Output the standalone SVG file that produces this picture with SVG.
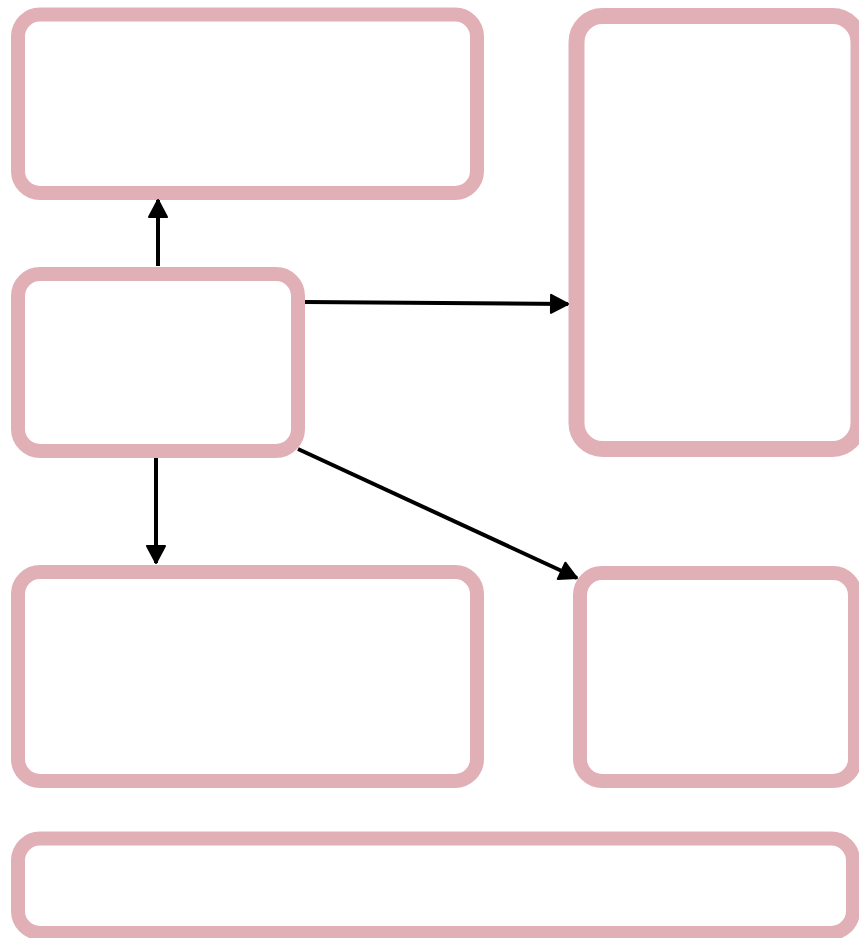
<svg xmlns="http://www.w3.org/2000/svg" width="859" height="938" viewBox="0 0 859 938">
<style>
.node{fill:#ffffff;stroke:#e1b0b7;stroke-width:14}
.thick{stroke-width:16}
.edge{fill:none;stroke:#000000;stroke-width:4}
</style>
<defs>
<marker id="ah" markerUnits="userSpaceOnUse" markerWidth="24" markerHeight="24" viewBox="0 0 24 24" refX="20" refY="12" orient="auto">
<path d="M3,3 L20,12 L3,21 Z" fill="#000" stroke="#000" stroke-width="2" stroke-linejoin="round"/>
</marker>
</defs>
<rect width="859" height="938" fill="#ffffff"/>
<g id="node-top-left"><rect class="node" x="18" y="14.5" width="459" height="178.5" rx="22"/></g>
<g id="node-center"><rect class="node" x="18" y="274" width="280" height="177" rx="22"/></g>
<g id="node-right-tall"><rect class="node thick" x="576.5" y="16" width="282" height="433" rx="26"/></g>
<g id="node-bottom-left"><rect class="node" x="18" y="572" width="459" height="209" rx="22"/></g>
<g id="node-bottom-right"><rect class="node" x="580" y="573" width="275" height="208" rx="22"/></g>
<g id="node-footer"><rect class="node" x="18" y="838.5" width="835" height="94.5" rx="22"/></g>
<g id="connectors">
<line class="edge" x1="158" y1="266" x2="158" y2="200" marker-end="url(#ah)"/>
<line class="edge" x1="305" y1="302" x2="568" y2="304" marker-end="url(#ah)"/>
<line class="edge" x1="298" y1="449" x2="577" y2="578" marker-end="url(#ah)"/>
<line class="edge" x1="156" y1="458" x2="156" y2="563" marker-end="url(#ah)"/>
</g>
</svg>
